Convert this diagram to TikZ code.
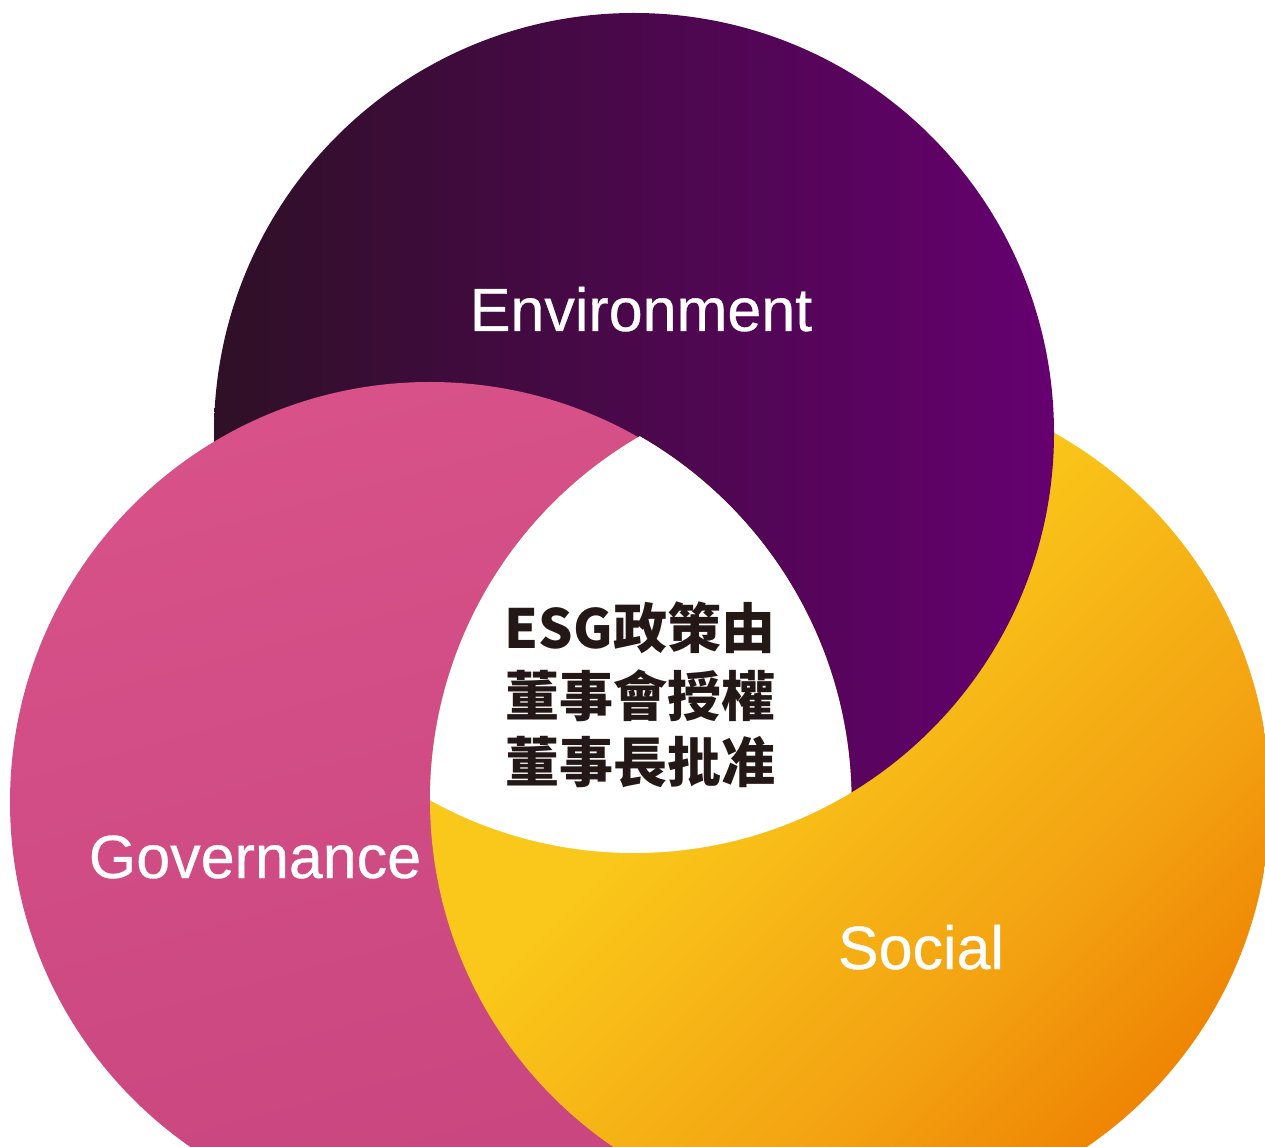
\documentclass[tikz,border=0pt]{standalone}
\usepackage{fontspec}
\setmainfont{Liberation Sans}
\newfontfamily\labfont{Liberation Sans}[FakeBold=0.5]
\newfontfamily\cjk{Noto Sans CJK TC}
\definecolor{envL}{HTML}{2E1026}
\definecolor{envR}{HTML}{660070}
\definecolor{pinkT}{HTML}{D85289}
\definecolor{pinkB}{HTML}{C8457F}
\definecolor{socY}{HTML}{FAC81A}
\definecolor{socM}{HTML}{F3A312}
\definecolor{socO}{HTML}{EE7E00}
\definecolor{ink}{HTML}{231815}
\pgfdeclareverticalshading{socshading}{100bp}{color(0bp)=(socO); color(22bp)=(socO); color(37bp)=(socM); color(58bp)=(socY); color(100bp)=(socY)}
\begin{document}
\begin{tikzpicture}[x=1pt,y=1pt,
  label/.style={inner sep=0pt, anchor=base, text=white, font=\labfont\fontsize{61}{70}\selectfont},
  cjkline/.style={inner sep=0pt, anchor=base, text=ink, font=\cjk\bfseries\fontsize{54}{60}\selectfont},
  envshade/.style={left color=envL, right color=envR},
  govshade/.style={top color=pinkT, bottom color=pinkB, shading angle=15},
  socshade/.style={shading=socshading, shading angle=45}]
\useasboundingbox (0,0) rectangle (1265,1146);
\coordinate (E) at (634,713);
\coordinate (G) at (430,344);
\coordinate (S) at (850,346);
\begin{scope}
\clip (0,0) rectangle (1265,1146);
\shade[socshade] (S) circle (420);
\shade[envshade] (E) circle (420);
\shade[govshade] (G) circle (420);
\begin{scope}
\clip (G) circle (421.5);
\shade[socshade] (S) circle (420);
\end{scope}
\begin{scope}
\clip (G) circle (421.5);
\clip (E) circle (420);
\fill[white] (S) circle (420);
\end{scope}
\end{scope}
\node[label] (env) at (641,815) {Environment};
\node[label] (gov) at (255,268) {Governance};
\node[label] (soc) at (921,177) {Social};
\node[cjkline] (l1) at (640,497) {ESG政策由};
\node[cjkline] (l2) at (640,429) {董事會授權};
\node[cjkline] (l3) at (640,363) {董事長批准};
\end{tikzpicture}
\end{document}
